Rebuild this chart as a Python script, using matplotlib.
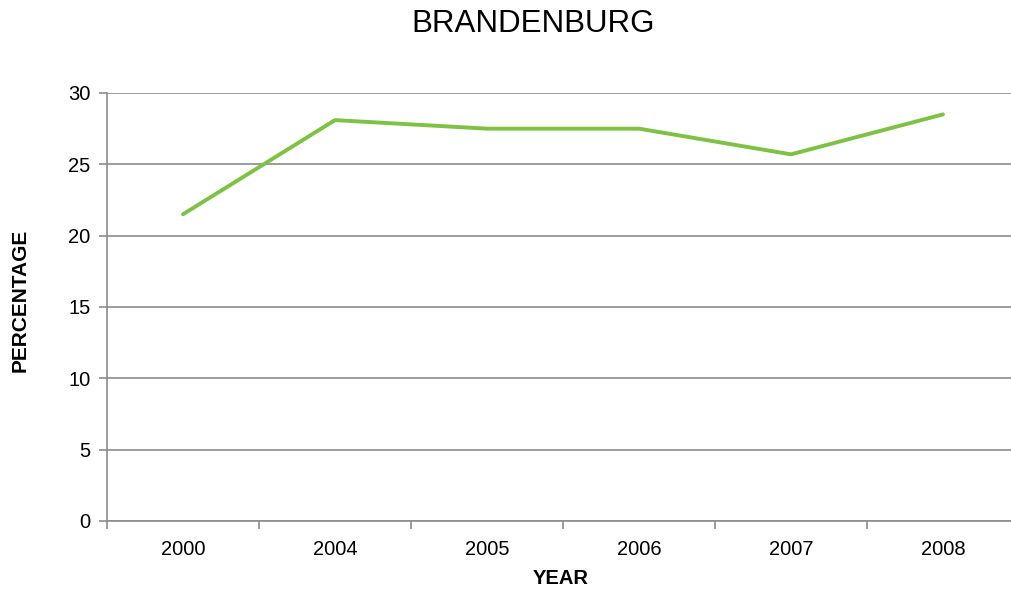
import matplotlib.pyplot as plt

years = ["2000", "2004", "2005", "2006", "2007", "2008"]
percentage = [21.5, 28.1, 27.5, 27.5, 25.7, 28.5]

plt.rcParams["font.family"] = ["Liberation Sans", "DejaVu Sans"]

W, H = 1011, 592
fig = plt.figure(figsize=(W / 100, H / 100), dpi=100)
# plot area in pixels: x 107..1019, y 93..521
ax = fig.add_axes([107 / W, (H - 521) / H, (1019 - 107) / W, (521 - 93) / H])

xs = range(len(years))
ax.plot(xs, percentage, color="#7dc243", linewidth=2.8, solid_capstyle="round", solid_joinstyle="round")

ax.set_xlim(-0.5, len(years) - 0.5)
ax.set_ylim(0, 30)
ax.set_yticks(range(0, 31, 5))
ax.set_xticks(list(xs))
ax.set_xticklabels(years)
ax.set_xticks([i - 0.5 for i in range(len(years) + 1)], minor=True)

ax.grid(axis="y", color="#8c8c8c", linewidth=1.2)
ax.set_axisbelow(True)
for side in ["top", "right"]:
    ax.spines[side].set_visible(False)
for side in ["left", "bottom"]:
    ax.spines[side].set_color("#8c8c8c")
    ax.spines[side].set_linewidth(1.2)

ax.tick_params(axis="y", length=6, width=1.2, color="#8c8c8c", labelsize=14.5, pad=6)
ax.tick_params(axis="x", which="major", length=0, labelsize=14.5, pad=14)
ax.tick_params(axis="x", which="minor", length=6, width=1.2, color="#8c8c8c")

fig.text(533 / W, 1 - 24 / H, "BRANDENBURG", ha="center", va="center", fontsize=22.5)
fig.text(561 / W, 1 - 578 / H, "YEAR", ha="center", va="center", fontsize=14.5, fontweight="bold")
fig.text(20 / W, 1 - 300 / H, "PERCENTAGE", ha="center", va="center", rotation=90,
         fontsize=15, fontweight="bold")

fig.savefig("out.png", dpi=100)
